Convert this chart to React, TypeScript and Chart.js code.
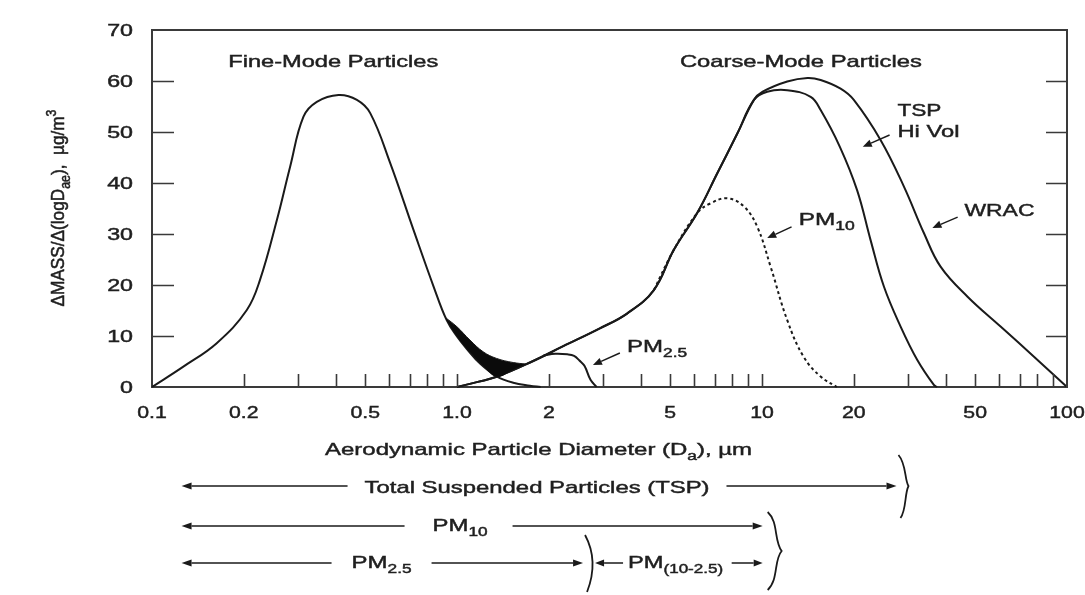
import React, { useEffect, useRef } from 'react';
import { Chart, registerables } from 'chart.js';

Chart.register(...registerables);

// ---------- data (aerodynamic diameter in µm, ΔMASS/Δ(logDae) in µg/m³) ----------
const fineDiam = [0.1, 0.1267, 0.163, 0.2046, 0.226, 0.2566, 0.2837, 0.3138, 0.347, 0.4088, 0.4697, 0.5194, 0.604, 0.72, 0.838, 0.925, 1.0, 1.076, 1.19, 1.349, 1.529, 1.735, 1.88];
const fineMass = [0, 4.0, 8.6, 15.1, 21.0, 32.7, 43.2, 53.0, 55.9, 57.25, 56.3, 53.7, 43.9, 30.8, 19.7, 13.1, 9.9, 7.5, 4.6, 2.1, 0.84, 0.25, 0];

const coarseDiam = [1.0, 1.17, 1.349, 1.735, 2.23, 2.94, 3.61, 4.42, 5.14, 6.13, 7.135, 8.3, 9.41];
const coarseMass = [0, 1.0, 2.0, 4.8, 8.0, 11.5, 14.4, 19.0, 26.9, 34.1, 41.9, 49.7, 56.3];

const tspDiam = [10.4, 12.1, 14.44, 15.57, 18.0, 20.5, 22.7, 25.1, 28.5, 32.3, 36.6, 37.5];
const tspMass = [57.9, 58.2, 56.9, 54.3, 47.1, 38.6, 28.8, 19.7, 11.8, 5.3, 0.4, 0];

const wracDiam = [10.05, 12.1, 14.1, 15.57, 18.1, 20.0, 24.5, 29.2, 34.0, 38.5, 47.2, 60.7, 78.1, 100];
const wracMass = [57.9, 59.9, 60.6, 60.2, 58.5, 56.3, 48.4, 39.3, 30.1, 23.6, 17.7, 11.8, 5.9, 0];

const pm10Diam = [4.42, 5.14, 6.13, 6.78, 7.69, 8.72, 9.65, 10.67, 12.1, 13.7, 15.6, 17.6];
const pm10Mass = [19.0, 26.9, 34.1, 36.0, 37.0, 35.4, 31.4, 23.6, 13.1, 5.9, 2.0, 0];

const pm25Diam = [1.92, 2.1, 2.3, 2.42, 2.52, 2.62, 2.74, 2.87];
const pm25Mass = [6.2, 6.5, 6.4, 6.1, 5.2, 4.1, 1.4, 0];

const overlapDiam = [0.913, 1.0, 1.103, 1.219, 1.349, 1.529, 1.69];
const overlapTop = [13.7, 11.8, 9.2, 6.9, 5.6, 4.8, 4.5];
const overlapBottom = [13.7, 9.9, 6.8, 4.1, 2.0, 3.4, 4.5];

const xTickValues = [0.1, 0.2, 0.5, 1, 2, 5, 10, 20, 50, 100];
const xTickLabels = ['0.1', '0.2', '0.5', '1.0', '2', '5', '10', '20', '50', '100'];
const xMinorTicks = [0.2, 0.3, 0.4, 0.5, 0.6, 0.7, 0.8, 0.9, 1, 2, 3, 4, 5, 6, 7, 8, 9, 10, 20, 30, 40, 50, 60, 70, 80, 90];
const yTickValues = [0, 10, 20, 30, 40, 50, 60, 70];

// ---------- styling ----------
const FONT = '"Liberation Sans", Arial, Helvetica, sans-serif';
const INK = '#1f1f1f';
const LINE = '#1a1a1a';
const AXIS = '#3a3a3a';

type Seg = { t: string; sub?: boolean; sup?: boolean };

function drawRich(
  ctx: CanvasRenderingContext2D,
  segs: Seg[],
  x: number,
  y: number,
  size: number,
  align: 'left' | 'center' | 'right',
  opts: { width?: number; sx?: number; sy?: number; rotate?: number } = {}
) {
  ctx.save();
  const widths = segs.map((s) => {
    ctx.font = `${s.sub || s.sup ? size * 0.72 : size}px ${FONT}`;
    return ctx.measureText(s.t).width;
  });
  const w = widths.reduce((a, b) => a + b, 0);
  const k = opts.width ? opts.width / w : opts.sx ?? 1;
  ctx.translate(x, y);
  if (opts.rotate) ctx.rotate(opts.rotate);
  ctx.scale(k, opts.sy ?? 1);
  let cx = align === 'left' ? 0 : align === 'center' ? -w / 2 : -w;
  ctx.fillStyle = INK;
  ctx.strokeStyle = INK;
  ctx.lineWidth = 0.45;
  ctx.textAlign = 'left';
  ctx.textBaseline = 'alphabetic';
  segs.forEach((s, i) => {
    ctx.font = `${s.sub || s.sup ? size * 0.72 : size}px ${FONT}`;
    const dy = s.sub ? size * 0.3 : s.sup ? -size * 0.42 : 0;
    ctx.fillText(s.t, cx, dy);
    ctx.strokeText(s.t, cx, dy);
    cx += widths[i];
  });
  ctx.restore();
}

function arrow(ctx: CanvasRenderingContext2D, x1: number, y1: number, x2: number, y2: number, head = 9, half = 3.6) {
  const ang = Math.atan2(y2 - y1, x2 - x1);
  const bx = x2 - Math.cos(ang) * head;
  const by = y2 - Math.sin(ang) * head;
  ctx.beginPath();
  ctx.moveTo(x1, y1);
  ctx.lineTo(bx, by);
  ctx.stroke();
  ctx.beginPath();
  ctx.moveTo(x2, y2);
  ctx.lineTo(bx + Math.sin(ang) * half, by - Math.cos(ang) * half);
  ctx.lineTo(bx - Math.sin(ang) * half, by + Math.cos(ang) * half);
  ctx.closePath();
  ctx.fill();
}

// labels inside the plot, anchored in data coordinates (left, baseline)
const plotLabels: { segs: Seg[]; d: number; v: number; w: number }[] = [
  { segs: [{ t: 'Fine-Mode Particles' }], d: 0.1778, v: 62.75, w: 210 },
  { segs: [{ t: 'Coarse-Mode Particles' }], d: 5.38, v: 62.75, w: 242 },
  { segs: [{ t: 'TSP' }], d: 27.8, v: 53.1, w: 44 },
  { segs: [{ t: 'Hi Vol' }], d: 27.8, v: 49.0, w: 62 },
  { segs: [{ t: 'WRAC' }], d: 46.1, v: 33.5, w: 70 },
  { segs: [{ t: 'PM' }, { t: '10', sub: true }], d: 13.2, v: 31.8, w: 56 },
  { segs: [{ t: 'PM' }, { t: '2.5', sub: true }], d: 3.61, v: 6.86, w: 60 },
];
const plotArrows = [
  { d1: 26.2, v1: 49.4, d2: 21.4, v2: 47.1 },
  { d1: 43.8, v1: 33.3, d2: 36.2, v2: 31.2 },
  { d1: 12.5, v1: 31.4, d2: 10.4, v2: 29.2 },
  { d1: 3.42, v1: 6.67, d2: 2.79, v2: 4.31 },
];

const decor = {
  id: 'decor',
  afterDraw(chart: any) {
    const { ctx, chartArea: a, scales } = chart;
    const X = (d: number) => scales.x.getPixelForValue(d);
    const Y = (v: number) => scales.y.getPixelForValue(v);
    ctx.save();
    ctx.lineCap = 'butt';
    // frame top + right
    ctx.strokeStyle = AXIS;
    ctx.lineWidth = 2;
    ctx.beginPath();
    ctx.moveTo(a.left - 1, a.top);
    ctx.lineTo(a.right, a.top);
    ctx.lineTo(a.right, a.bottom + 1);
    ctx.stroke();
    // inner ticks
    ctx.lineWidth = 1.6;
    ctx.beginPath();
    yTickValues.filter((v) => v > 0 && v < 70).forEach((v) => {
      const py = Math.round(Y(v)) + 0.5;
      ctx.moveTo(a.left, py);
      ctx.lineTo(a.left + 22, py);
      ctx.moveTo(a.right, py);
      ctx.lineTo(a.right - 21, py);
    });
    xMinorTicks.forEach((d) => {
      const px = Math.round(X(d)) + 0.5;
      ctx.moveTo(px, a.bottom);
      ctx.lineTo(px, a.bottom - 13);
    });
    ctx.stroke();

    // tick labels
    xTickValues.forEach((d, i) => drawRich(ctx, [{ t: xTickLabels[i] }], X(d), a.bottom + 31, 17, 'center', { sx: 1.25 }));
    yTickValues.forEach((v) => drawRich(ctx, [{ t: String(v) }], a.left - 19, Y(v) + 6, 16, 'right', { sx: 1.45 }));

    // axis titles
    drawRich(
      ctx,
      [{ t: 'Aerodynamic Particle Diameter (D' }, { t: 'a', sub: true }, { t: '), µm' }],
      a.left + 173,
      a.bottom + 68,
      17,
      'left',
      { width: 427 }
    );
    drawRich(
      ctx,
      [{ t: 'ΔMASS/Δ(logD' }, { t: 'ae', sub: true }, { t: '),  µg/m' }, { t: '3', sup: true }],
      a.left - 88,
      a.top + 178,
      16,
      'center',
      { width: 197, sy: 1.2, rotate: -Math.PI / 2 }
    );

    // in-plot labels and arrows
    plotLabels.forEach((l) => drawRich(ctx, l.segs, X(l.d), Y(l.v), 17, 'left', { width: l.w }));
    ctx.strokeStyle = LINE;
    ctx.fillStyle = LINE;
    ctx.lineWidth = 1.5;
    plotArrows.forEach((p) => arrow(ctx, X(p.d1), Y(p.v1), X(p.d2), Y(p.v2), 9, 3.8));

    // size-range bars below the axis
    const x0 = X(0.125);
    const xTsp = X(27.6);
    const x10 = X(10.05);
    const x25 = X(2.59);
    const r1 = a.bottom + 99;
    const r2 = a.bottom + 139;
    const r3 = a.bottom + 176;
    ctx.lineWidth = 1.5;
    arrow(ctx, x0 + 166, r1, x0, r1, 10, 3.6);
    arrow(ctx, xTsp - 170, r1, xTsp, r1, 10, 3.6);
    drawRich(ctx, [{ t: 'Total Suspended Particles (TSP)' }], x0 + 183, r1 + 7, 17, 'left', { width: 345 });

    arrow(ctx, x0 + 223, r2, x0, r2, 10, 3.6);
    arrow(ctx, x0 + 331, r2, x10, r2, 10, 3.6);
    drawRich(ctx, [{ t: 'PM' }, { t: '10', sub: true }], x0 + 251, r2 + 5, 17, 'left', { width: 55 });

    arrow(ctx, x0 + 150, r3, x0, r3, 10, 3.6);
    arrow(ctx, x0 + 250, r3, x25, r3, 10, 3.6);
    drawRich(ctx, [{ t: 'PM' }, { t: '2.5', sub: true }], x0 + 170, r3 + 5, 17, 'left', { width: 60 });

    arrow(ctx, x25 + 40, r3, x25 + 12, r3, 9, 3.4);
    arrow(ctx, x10 - 31, r3, x10, r3, 9, 3.4);
    drawRich(ctx, [{ t: 'PM' }, { t: '(10-2.5)', sub: true }], x25 + 45, r3 + 5, 17, 'left', { width: 95 });

    // brackets
    ctx.lineWidth = 1.8;
    ctx.beginPath();
    ctx.moveTo(xTsp + 2, r1 - 31);
    ctx.bezierCurveTo(xTsp + 10, r1 - 22, xTsp + 8, r1 - 6, xTsp + 12, r1);
    ctx.bezierCurveTo(xTsp + 8, r1 + 8, xTsp + 10, r1 + 24, xTsp + 4, r1 + 32);
    ctx.stroke();

    ctx.beginPath();
    ctx.moveTo(x10 + 5, r2 - 14);
    ctx.bezierCurveTo(x10 + 16, r2 - 4, x10 + 11, r2 + 14, x10 + 19, r2 + 25);
    ctx.bezierCurveTo(x10 + 11, r2 + 34, x10 + 16, r2 + 54, x10 + 5, r2 + 64);
    ctx.stroke();

    ctx.beginPath();
    ctx.moveTo(x25 + 2, r3 - 28);
    ctx.quadraticCurveTo(x25 + 16, r3 - 2, x25 + 4, r3 + 29);
    ctx.stroke();

    ctx.restore();
  },
};

const pts = (xs: number[], ys: number[]) => xs.map((x, i) => ({ x, y: ys[i] }));

export default function App() {
  const ref = useRef<HTMLCanvasElement>(null);
  useEffect(() => {
    const canvas = ref.current!;
    const ds = (label: string, xs: number[], ys: number[], extra: any = {}) => ({
      label,
      data: pts(xs, ys),
      borderColor: LINE,
      borderWidth: 2,
      pointRadius: 0,
      fill: false,
      clip: false,
      tension: 0.4,
      ...extra,
    });
    const chart = new Chart(canvas, {
      type: 'line',
      data: {
        datasets: [
          ds('Overlap', overlapDiam, overlapTop, { borderWidth: 1, backgroundColor: '#0b0b0b', fill: '+1' }),
          ds('Overlap base', overlapDiam, overlapBottom, { borderWidth: 0, borderColor: 'rgba(0,0,0,0)' }),
          ds('Fine mode', fineDiam, fineMass),
          ds('TSP Hi Vol', [...coarseDiam, ...tspDiam], [...coarseMass, ...tspMass]),
          ds('WRAC', [...coarseDiam, ...wracDiam], [...coarseMass, ...wracMass]),
          ds('PM10', pm10Diam, pm10Mass, { borderDash: [3, 3] }),
          ds('PM2.5', pm25Diam, pm25Mass),
        ],
      },
      options: {
        responsive: false,
        devicePixelRatio: 1,
        animation: false,
        events: [],
        layout: { padding: { top: 30, right: 18, bottom: 0, left: 0 } },
        plugins: { legend: { display: false }, tooltip: { enabled: false } },
        scales: {
          x: {
            type: 'logarithmic',
            min: 0.1,
            max: 100,
            grid: { display: false },
            border: { display: true, color: AXIS, width: 2 },
            ticks: { display: false },
            afterFit: (s: any) => {
              s.height = 208;
            },
          },
          y: {
            type: 'linear',
            min: 0,
            max: 70,
            grid: { display: false },
            border: { display: true, color: AXIS, width: 2 },
            ticks: { display: false },
            afterFit: (s: any) => {
              s.width = 152;
            },
          },
        },
      } as any,
      plugins: [decor],
    });
    return () => chart.destroy();
  }, []);
  return (
    <div style={{ position: 'fixed', left: 0, top: 0, width: 1085, height: 595, background: '#fff' }}>
      <canvas ref={ref} width={1085} height={595} style={{ display: 'block' }} />
    </div>
  );
}
